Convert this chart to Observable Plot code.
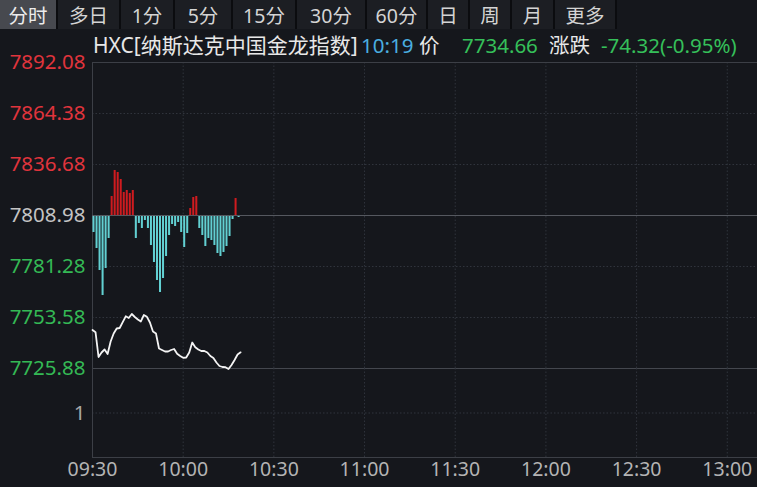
<!DOCTYPE html>
<html>
<head>
<meta charset="utf-8">
<script src="https://cdn.jsdelivr.net/npm/d3@7"></script>
<script src="https://cdn.jsdelivr.net/npm/@observablehq/plot@0.6"></script>
<style>
  html, body { margin: 0; padding: 0; background: #15171c; }
  #wrap { position: relative; width: 757px; height: 487px; overflow: hidden; background: #15171c;
          font-family: "Noto Sans", "Noto Sans CJK SC", sans-serif; }
  .tabs { position: absolute; top: 0; left: 0; height: 29px; display: flex; }
  .tab { height: 29px; box-sizing: border-box; display: flex; align-items: center; justify-content: center;
         color: #d4d4d4; font-size: 19.5px; background: #1c1e23; border-right: 2px solid #0b0c0f; }
  .tab.sel { background: #47494f; color: #ececec; }
  .t { position: absolute; top: 33px; line-height: 24px; font-size: 20.5px; white-space: nowrap; }
  #plotA { position: absolute; left: 0; top: 55px; }
  #plotB { position: absolute; left: 0; top: 368px; }
</style>
</head>
<body>
<div id="wrap">
  <div class="tabs" id="tabs"></div>
  <div class="t" id="tName" style="left:93px; color:#e8e8e8; font-size:21px; letter-spacing:0px;"></div>
  <div class="t" id="tTime" style="left:361px; color:#4aaee0;"></div>
  <div class="t" id="tPriceLbl" style="left:419px; color:#e8e8e8;"></div>
  <div class="t" id="tPrice" style="left:462px; color:#35c05a;"></div>
  <div class="t" id="tChgLbl" style="left:549px; color:#e8e8e8;"></div>
  <div class="t" id="tChg" style="left:601px; color:#35c05a;"></div>
  <div id="plotA"></div>
  <div id="plotB"></div>
</div>
<script>
// ---- data ----
const tabs = ["分时", "多日", "1分", "5分", "15分", "30分", "60分", "日", "周", "月", "更多"];
const indexName = "HXC[纳斯达克中国金龙指数]";
const lastTime = "10:19";
const priceLabel = "价";
const lastPrice = "7734.66";
const changeLabel = "涨跌";
const changeText = "-74.32(-0.95%)";

const prevClose = 7808.98;
const yTicks = [7892.08, 7864.38, 7836.68, 7808.98, 7781.28, 7753.58, 7725.88];
const volTicks = [1];
const xLabels = ["09:30", "10:00", "10:30", "11:00", "11:30", "12:00", "12:30", "13:00"];
const xEnd = "13:10";

// price per minute from 09:30 to 10:19
const prices = [
  7746.79, 7745.60, 7732.13, 7734.57, 7736.20, 7733.76, 7740.54, 7744.89, 7747.61, 7747.88,
  7751.03, 7754.23, 7753.31, 7755.48, 7753.85, 7752.49, 7751.41, 7754.94, 7753.96, 7750.86,
  7745.98, 7744.89, 7736.74, 7735.93, 7735.11, 7735.11, 7735.93, 7736.47, 7733.86, 7732.67,
  7731.69, 7731.85, 7734.57, 7740.00, 7737.45, 7736.20, 7735.38, 7735.38, 7734.57, 7732.67,
  7731.58, 7729.14, 7727.24, 7726.69, 7726.58, 7725.61, 7727.78, 7730.50, 7733.48, 7734.66
];
// per-minute bars measured from the previous close
const bars = [
  -9.23, -17.92, -29.87, -43.45, -28.79, -12.49, 10.32, 24.44, 23.36, 19.55,
  12.49, 13.58, 11.95, 13.58, -12.49, -4.35, -7.06, -2.72, -7.06, -16.29,
  -25.53, -35.30, -41.82, -34.22, -22.27, -10.86, -4.89, -5.97, -3.80, -9.23,
  -17.38, -9.78, 3.80, 9.78, 10.32, -7.06, -10.86, -16.84, -12.49, -13.58,
  -16.29, -20.64, -22.27, -20.10, -16.84, -11.41, -2.17, 9.23, -1.09
];

// ---- header ----
const tabW = [58, 63, 54, 58, 64, 70, 61, 42, 42, 43, 62];
const tabsEl = document.getElementById("tabs");
tabs.forEach((name, i) => {
  const d = document.createElement("div");
  d.className = "tab" + (i === 0 ? " sel" : "");
  d.style.width = tabW[i] + "px";
  d.textContent = name;
  tabsEl.appendChild(d);
});
document.getElementById("tName").textContent = indexName;
document.getElementById("tTime").textContent = lastTime;
document.getElementById("tPriceLbl").textContent = priceLabel;
document.getElementById("tPrice").textContent = lastPrice;
document.getElementById("tChgLbl").textContent = changeLabel;
document.getElementById("tChg").textContent = changeText;

// ---- time helpers ----
const parseHM = s => { const [h, m] = s.split(":").map(Number); return new Date(Date.UTC(2024, 0, 2, h, m)); };
const t0 = parseHM(xLabels[0]);
const minute = i => new Date(t0.getTime() + i * 60000);
const xTicks = xLabels.map(parseHM);
const xDomain = [t0, parseHM(xEnd)];

const priceData = prices.map((p, i) => ({t: minute(i), p}));
const barData = bars.map((v, i) => ({t1: minute(i), t2: minute(i + 1), v}));

const red = "#e0343c", green = "#34b955", grayLbl = "#c4c4c4";
const dotColor = "#30343c", solidColor = "#3c3f46";
const font = "Noto Sans, Noto Sans CJK SC, sans-serif";

const plotA = Plot.plot({
  width: 757, height: 313,
  marginTop: 7, marginBottom: 0, marginLeft: 92, marginRight: 0,
  x: {type: "utc", domain: xDomain, axis: null},
  y: {domain: [yTicks[yTicks.length - 1], yTicks[0]], axis: null},
  style: {background: "transparent", overflow: "visible", fontFamily: font},
  marks: [
    Plot.ruleY(yTicks.filter(d => d !== prevClose && d !== yTicks[0] && d !== yTicks[yTicks.length - 1]),
      {stroke: dotColor, strokeWidth: 1, strokeDasharray: "1.5,2"}),
    Plot.ruleX(xTicks.slice(1), {stroke: dotColor, strokeWidth: 1, strokeDasharray: "1.5,2"}),
    Plot.ruleY([yTicks[0]], {stroke: solidColor, strokeWidth: 1}),
    Plot.ruleY([yTicks[yTicks.length - 1]], {stroke: "#44474e", strokeWidth: 1}),
    Plot.ruleX([t0], {stroke: solidColor, strokeWidth: 1}),
    Plot.rectY(barData.filter(d => d.v >= 0), {x1: "t1", x2: "t2", y1: () => prevClose, y2: d => prevClose + d.v,
      fill: "#cf1b1f", insetLeft: 0.5, insetRight: 0.5}),
    Plot.rectY(barData.filter(d => d.v < 0), {x1: "t1", x2: "t2", y1: () => prevClose, y2: d => prevClose + d.v,
      fill: "#62d0d2", insetLeft: 0.5, insetRight: 0.5}),
    Plot.ruleY([prevClose], {stroke: "#55585f", strokeWidth: 1}),
    Plot.line(priceData, {x: "t", y: "p", stroke: "#f4f4f4", strokeWidth: 1.8}),
    Plot.axisY(yTicks.filter(d => d > prevClose), {tickSize: 0, tickPadding: 7, fill: red, fontSize: 20.5,
      tickFormat: d3.format(".2f"), label: null}),
    Plot.axisY([prevClose], {tickSize: 0, tickPadding: 7, fill: grayLbl, fontSize: 20.5,
      tickFormat: d3.format(".2f"), label: null}),
    Plot.axisY(yTicks.filter(d => d < prevClose), {tickSize: 0, tickPadding: 7, fill: green, fontSize: 20.5,
      tickFormat: d3.format(".2f"), label: null})
  ]
});
document.getElementById("plotA").appendChild(plotA);

const plotB = Plot.plot({
  width: 757, height: 119,
  marginTop: 0, marginBottom: 30, marginLeft: 92, marginRight: 0,
  x: {type: "utc", domain: xDomain},
  y: {domain: [0, 2]},
  style: {background: "transparent", overflow: "visible", fontFamily: font},
  marks: [
    Plot.ruleY(volTicks, {stroke: dotColor, strokeWidth: 1, strokeDasharray: "1.5,2"}),
    Plot.ruleX(xTicks.slice(1), {stroke: dotColor, strokeWidth: 1, strokeDasharray: "1.5,2"}),
    Plot.ruleX([t0], {stroke: solidColor, strokeWidth: 1}),
    Plot.ruleY([0], {stroke: solidColor, strokeWidth: 1}),
    Plot.axisY(volTicks, {tickSize: 0, tickPadding: 7, fill: "#a8a8a8", fontSize: 20.5, label: null}),
    Plot.axisX(xTicks, {tickSize: 0, tickPadding: 5, fill: "#b4b4b4", fontSize: 19.5,
      tickFormat: d3.utcFormat("%H:%M"), label: null})
  ]
});
document.getElementById("plotB").appendChild(plotB);
</script>
</body>
</html>
